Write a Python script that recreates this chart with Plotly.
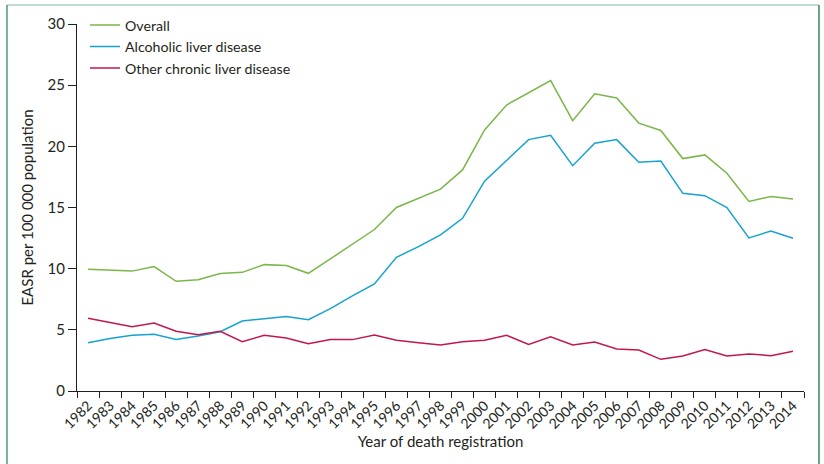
import plotly.graph_objects as go

years = [str(y) for y in range(1982, 2015)]

overall = [9.95, 9.85, 9.8, 10.17, 8.97, 9.1, 9.6, 9.7, 10.33, 10.25, 9.62,
           10.8, 12.0, 13.2, 15.0, 15.75, 16.5, 18.07, 21.34, 23.38, 24.4,
           25.37, 22.1, 24.3, 23.95, 21.9, 21.3, 19.0, 19.3, 17.8, 15.5, 15.9, 15.7]

alcoholic = [3.95, 4.3, 4.55, 4.63, 4.22, 4.5, 4.85, 5.72, 5.91, 6.08, 5.83,
             6.73, 7.77, 8.75, 10.93, 11.8, 12.76, 14.12, 17.15, 18.89, 20.55,
             20.9, 18.42, 20.25, 20.55, 18.7, 18.8, 16.16, 15.97, 14.99, 12.51, 13.08, 12.48]

other = [5.94, 5.6, 5.26, 5.56, 4.88, 4.6, 4.88, 4.03, 4.55, 4.33, 3.87,
         4.2, 4.2, 4.58, 4.14, 3.95, 3.76, 4.03, 4.14, 4.55, 3.81,
         4.44, 3.76, 4.0, 3.43, 3.35, 2.59, 2.86, 3.4, 2.86, 3.03, 2.89, 3.25]

series_names = ["Overall", "Alcoholic liver disease", "Other chronic liver disease"]
series_colors = ["#7ab648", "#16a3cf", "#c2174d"]

y_ticks = [0, 5, 10, 15, 20, 25, 30]

FONT = "Lato"
INK = "#231f20"

fig = go.Figure()
for name, vals, col in zip(series_names, [overall, alcoholic, other], series_colors):
    fig.add_trace(go.Scatter(x=years, y=vals, mode="lines", name=name,
                             line=dict(color=col, width=1.5)))

fig.update_layout(
    width=824, height=464,
    margin=dict(l=77, r=20, t=24, b=73, autoexpand=False),
    paper_bgcolor="white", plot_bgcolor="white",
    font=dict(family=FONT, size=15, color=INK),
    showlegend=True,
    legend=dict(x=0.011, y=1.04, xanchor="left", yanchor="top",
                bgcolor="rgba(0,0,0,0)", font=dict(size=14.2, color=INK),
                tracegroupgap=0),
    xaxis=dict(type="category", range=[-0.5, 32.5], showline=True, linecolor=INK,
               linewidth=1.2, ticks="outside", ticklen=6, tickcolor=INK, tickwidth=1.2,
               tickson="boundaries", tickangle=-45, showgrid=False, zeroline=False,
               tickfont=dict(size=14, color=INK),
               title=dict(text="Year of death registration", font=dict(size=15, color=INK), standoff=4)),
    yaxis=dict(range=[0, 30], tickvals=y_ticks, showline=True, linecolor=INK,
               linewidth=1.2, ticks="outside", ticklen=8, tickcolor=INK, tickwidth=1.2,
               showgrid=False, zeroline=False, tickfont=dict(size=15, color=INK),
               title=dict(text="EASR per 100 000 population", font=dict(size=15, color=INK), standoff=10)),
)

# green frame around the figure
L, R, T, B = -0.0963, 1.0206, 1.0518, -0.35
fig.add_shape(type="line", xref="paper", yref="paper", x0=L, x1=R, y0=T, y1=T,
              line=dict(color="#a9d2bf", width=1.5))
fig.add_shape(type="line", xref="paper", yref="paper", x0=L, x1=L, y0=T, y1=B,
              line=dict(color="#4c9c78", width=1.5))
fig.add_shape(type="line", xref="paper", yref="paper", x0=R, x1=R, y0=T, y1=B,
              line=dict(color="#3a8660", width=1.5))

fig.write_html("out.html", config={"displayModeBar": False},
               post_script="document.body.style.margin='0';")
